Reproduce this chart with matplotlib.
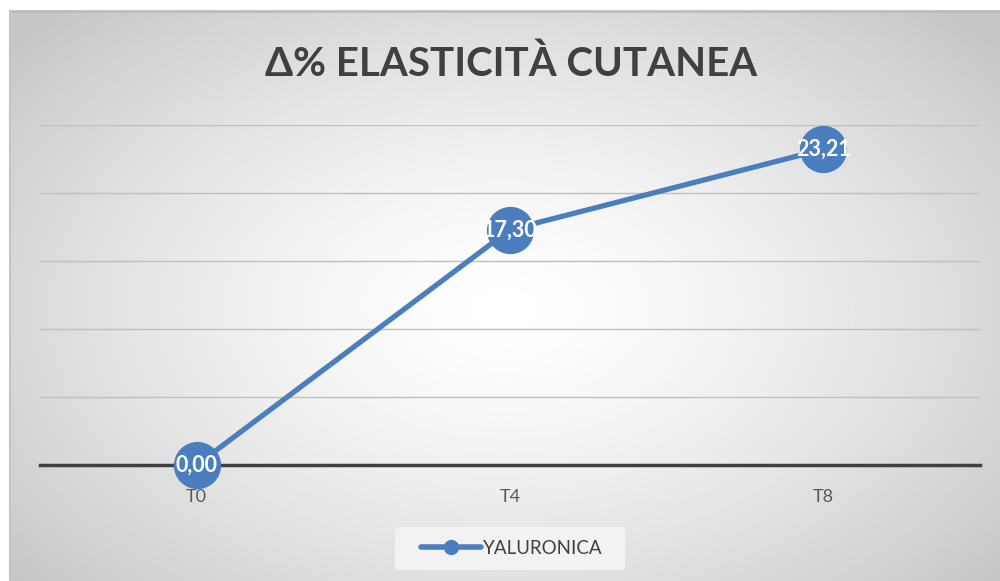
import numpy as np
import matplotlib.pyplot as plt
from matplotlib.patches import Rectangle
from matplotlib.lines import Line2D

categories = ['T0', 'T4', 'T8']
values = [0.00, 17.30, 23.21]
series_name = 'YALURONICA'
title = 'Δ% ELASTICITÀ CUTANEA'

W, H = 1000, 581
line_color = '#4a7ebf'
plt.rcParams['font.family'] = ['Lato', 'DejaVu Sans']

fig = plt.figure(figsize=(W / 100, H / 100), dpi=100, facecolor='white')

# radial gradient background of the chart area
bg = fig.add_axes([10 / W, 0, 1 - 10 / W, 1 - 11 / H])
bg.set_axis_off()
nx, ny = 400, 240
xx, yy = np.meshgrid(np.linspace(-1, 1, nx), np.linspace(-1, 1, ny))
yy = yy - 0.05
r = np.sqrt(xx ** 2 + (yy * 0.9) ** 2)
r = np.clip(r / 1.3, 0, 1)
shade = 1.0 - 0.22 * r ** 1.4
bg.imshow(shade, cmap='gray', vmin=0, vmax=1, aspect='auto',
          extent=[0, 1, 0, 1], interpolation='bilinear')
bg.set_xlim(0, 1)
bg.set_ylim(0, 1)
bg.plot([0, 1], [1, 1], color='#bdbdbd', lw=2, transform=bg.transAxes, clip_on=False)
bg.plot([0, 0], [0, 1], color='#c4c4c4', lw=1.5, transform=bg.transAxes, clip_on=False)

# plot area
ax = fig.add_axes([40 / W, 1 - 465 / H, 940 / W, 340 / H])
ax.patch.set_alpha(0)
x = np.arange(len(categories))
ax.set_xlim(-0.5, len(categories) - 0.5)
ax.set_ylim(0, 25)
ax.set_yticks([5, 10, 15, 20, 25])
ax.yaxis.grid(True, color='#bfbfbf', lw=1)
ax.set_axisbelow(True)
for s in ['top', 'right', 'left']:
    ax.spines[s].set_visible(False)
ax.spines['bottom'].set_color('#404040')
ax.spines['bottom'].set_linewidth(2.5)
ax.tick_params(axis='y', left=False, labelleft=False)
ax.tick_params(axis='x', bottom=False, pad=14, labelsize=13, labelcolor='#595959')
ax.set_xticks(x)
ax.set_xticklabels(categories)

ax.plot(x, values, color=line_color, lw=3.8, marker='o', markersize=33,
        markerfacecolor=line_color, markeredgecolor=line_color, clip_on=False,
        zorder=3, solid_capstyle='round')
for xi, v in zip(x, values):
    ax.text(xi, v, f'{v:.2f}'.replace('.', ','), color='white', fontsize=15.5,
            fontweight='bold', ha='center', va='center', zorder=4)

fig.text(0.511, 1 - 64 / H, title, ha='center', va='center', fontsize=29,
         fontweight='bold', color='#404040')

# legend
fig.patches.append(Rectangle((395 / W, 1 - 570 / H), 230 / W, 43 / H,
                             transform=fig.transFigure, facecolor='#f2f2f2',
                             edgecolor='none', zorder=1))
handle = Line2D([], [], color=line_color, lw=4, marker='o', markersize=10,
                solid_capstyle='round')
fig.legend([handle], [series_name], loc='center', bbox_to_anchor=(0.512, 1 - 548 / H),
           frameon=False, fontsize=13.5, labelcolor='#404040', handlelength=3.2,
           handletextpad=0.1)

fig.savefig('out.png', dpi=100)
